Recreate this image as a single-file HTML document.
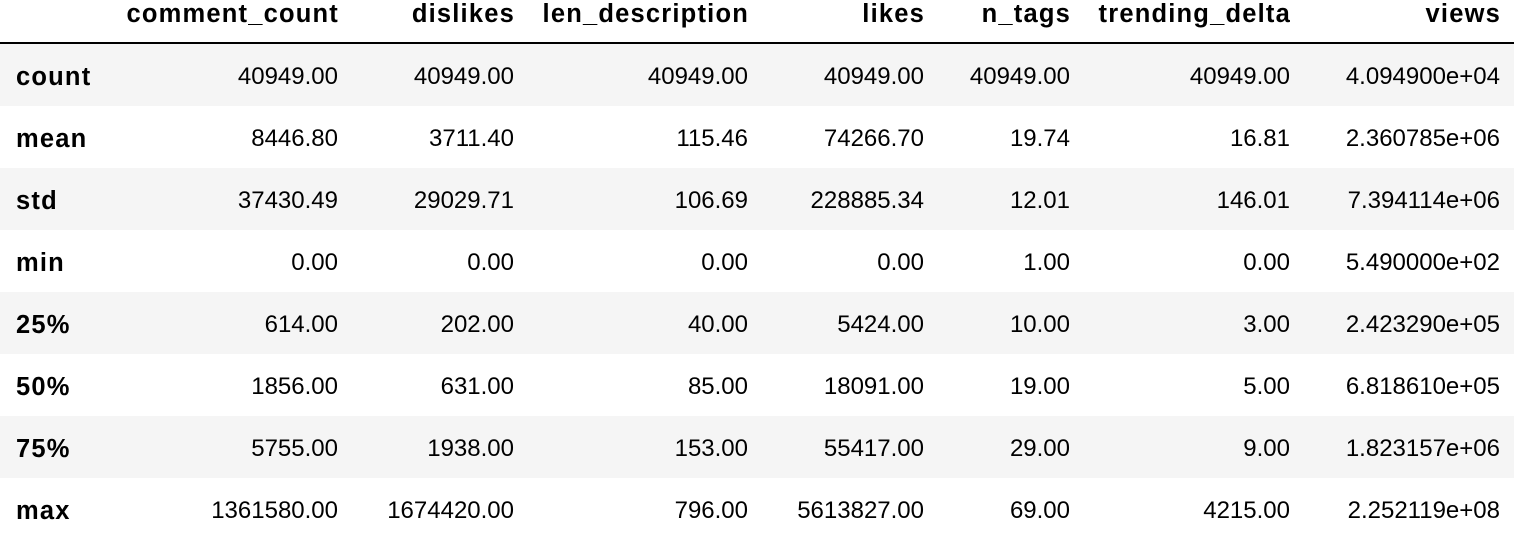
<!DOCTYPE html>
<html><head><meta charset="utf-8"><style>
body{margin:0;width:1514px;height:522px;overflow:hidden;background:#fff;font-family:"Liberation Sans",Arial,sans-serif;font-size:24px;color:#000}
.c{position:absolute;white-space:nowrap;line-height:30px}
.r{position:absolute;left:0;width:1514px;height:62px}
.h{font-weight:bold;font-size:25.5px;letter-spacing:1.2px}
</style></head><body>
<div id="t"></div>
<script>
const cols=["comment_count","dislikes","len_description","likes","n_tags","trending_delta","views"];
const rights=[338,514,748,924,1070,1290,1500];
const idx=["count","mean","std","min","25%","50%","75%","max"];
const rows=[
["40949.00","40949.00","40949.00","40949.00","40949.00","40949.00","4.094900e+04"],
["8446.80","3711.40","115.46","74266.70","19.74","16.81","2.360785e+06"],
["37430.49","29029.71","106.69","228885.34","12.01","146.01","7.394114e+06"],
["0.00","0.00","0.00","0.00","1.00","0.00","5.490000e+02"],
["614.00","202.00","40.00","5424.00","10.00","3.00","2.423290e+05"],
["1856.00","631.00","85.00","18091.00","19.00","5.00","6.818610e+05"],
["5755.00","1938.00","153.00","55417.00","29.00","9.00","1.823157e+06"],
["1361580.00","1674420.00","796.00","5613827.00","69.00","4215.00","2.252119e+08"]];
const t=document.getElementById('t');
function cell(txt,right,cy,bold,name){const d=document.createElement('div');d.className='c'+(bold?' h':'');d.textContent=txt;
d.style.right=(1514-right-(bold?1:0))+'px';d.style.top=(cy-15)+'px';


t.appendChild(d);return d;}
cols.forEach((c,j)=>cell(c,rights[j],14,true,'header-'+c.replace(/_/g,'-')));
const line=document.createElement('div');line.style.cssText='position:absolute;left:0;top:42px;width:1514px;height:2px;background:#000';


t.appendChild(line);
idx.forEach((r,i)=>{
 const top=44+62*i;
 const bg=document.createElement('div');bg.className='r';bg.style.top=top+'px';bg.style.background=i%2==0?'#f5f5f5':'#fff';
 
 
 t.appendChild(bg);
 const cy=top+33;
 const l=document.createElement('div');l.className='c h';l.textContent=r;l.style.left='16px';l.style.top=(cy-15)+'px';
 
 
 t.appendChild(l);
 rows[i].forEach((v,j)=>cell(v,rights[j],cy,false,'cell-'+r.replace('%','pct')+'-'+cols[j].replace(/_/g,'-')));
});
</script>
</body></html>
